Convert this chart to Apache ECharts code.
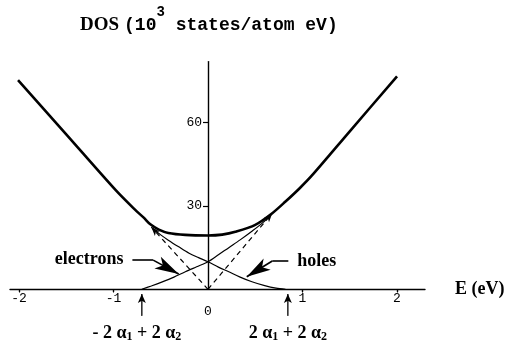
<!DOCTYPE html>
<html>
<head>
<meta charset="utf-8">
<script src="https://cdn.jsdelivr.net/npm/echarts@6/dist/echarts.min.js"></script>
<style>
  html, body { margin: 0; padding: 0; background: #fff; }
  #chart { width: 512px; height: 347px; }
</style>
</head>
<body>
<div id="chart"></div>
<script>
// Total density of states (10^3 states/atom eV) against energy (eV)
const totalE   = [-2.01, -1.5, -0.974, -0.77, -0.68, -0.61, -0.52, -0.42, -0.24, 0, 0.15, 0.29, 0.5, 0.68, 0.82, 0.97, 1.1, 1.5, 2.0];
const totalDOS = [75.3, 55.8, 35.6, 28.6, 25.8, 23.4, 21.5, 20.3, 19.6, 19.4, 19.7, 20.7, 23.2, 27.4, 31.6, 36.4, 41.0, 56.9, 76.7];

// Electron branch, rising from its band edge
const electronE   = [-0.70, -0.60, -0.49, -0.36, -0.24, -0.12, 0, 0.11, 0.22, 0.34, 0.465, 0.58, 0.68];
const electronDOS = [0, 1.2, 2.6, 4.4, 6.3, 8.1, 9.9, 12.4, 15.0, 17.8, 20.9, 24.0, 27.4];

// Hole branch, falling to its band edge
const holeE   = [-0.59, -0.50, -0.42, -0.31, -0.20, -0.10, 0, 0.11, 0.22, 0.34, 0.465, 0.60, 0.72, 0.82];
const holeDOS = [22.0, 19.6, 17.7, 15.3, 13.0, 11.4, 9.9, 8.0, 6.3, 4.4, 2.7, 1.3, 0.4, 0];

// Linear branches meeting at E = 0 (dashed)
const linearLeft  = [-0.60, 22.4];
const linearRight = [0.68, 27.4];

// Band edges marked under the energy axis
const edgeE     = [-0.70, 0.845];
const edgeNames = ['- 2 α{s|1} + 2 α{s|2}', '2 α{s|1} + 2 α{s|2}'];

// Pointer arrows for the branch names: tail start, bend, arrow tip
const electronPointer = [[-0.80, 10.6], [-0.58, 10.5], [-0.31, 5.5]];
const holePointer     = [[0.85, 10.2], [0.68, 10.2], [0.41, 4.5]];

// Axis ticks and labels
const xTickValues  = [-2, -1, 1, 2];
const xLabelValues = [-2, -1, 0, 1, 2];
const yTickValues  = [30, 60];

const ink = '#000';
const gridLeft = 10;
const pair = (xs, ys) => xs.map((x, i) => [x, ys[i]]);
const serifBold = { fontFamily: 'Liberation Serif', fontWeight: 'bold', color: ink };
const mono = { fontFamily: 'Liberation Mono', color: ink };

function edgeSeries(x, text, dx) {
  return {
    type: 'line', clip: false, silent: true, symbol: 'none',
    lineStyle: { color: ink, width: 1.3 },
    data: [
      { value: [x, -9.4], symbol: 'circle', symbolSize: 1, itemStyle: { color: ink },
        label: { show: true, position: 'bottom', distance: 7, offset: [dx, 0],
                 formatter: text,
                 ...serifBold, fontSize: 18, lineHeight: 20,
                 rich: { s: { ...serifBold, fontSize: 12, lineHeight: 12, verticalAlign: 'bottom' } } } },
      { value: [x, -1.7], symbol: 'arrow', symbolSize: [6, 9], itemStyle: { color: ink } }
    ]
  };
}

function branchMarks(linearEnd, pointer, name) {
  return {
    silent: true,
    symbol: ['none', 'none'],
    label: { show: false },
    lineStyle: { color: ink, width: 1.2, type: 'solid' },
    data: [
      [ { coord: [0, 0], lineStyle: { type: [5, 4], width: 1.2 } },
        { coord: linearEnd, symbol: 'arrow', symbolSize: [5, 9] } ],
      [ { coord: pointer[0], lineStyle: { width: 1.6 },
          label: { show: true, position: 'start', distance: 9, formatter: name, ...serifBold, fontSize: 18 } },
        { coord: pointer[1] } ],
      [ { coord: pointer[1], lineStyle: { width: 1.6 } },
        { coord: pointer[2], symbol: 'arrow', symbolSize: [10, 24] } ]
    ]
  };
}

const chart = echarts.init(document.getElementById('chart'), null, { renderer: 'canvas' });
chart.setOption({
  animation: false,
  backgroundColor: '#fff',
  title: {
    left: 80, top: 5, padding: 0,
    text: '{b|DOS} {m|(10}{s|3}{m| states/atom eV)}',
    textStyle: {
      rich: {
        b: { ...serifBold, fontSize: 19, lineHeight: 40 },
        m: { ...mono, fontSize: 18, lineHeight: 40 },
        s: { ...mono, fontSize: 14, lineHeight: 14, verticalAlign: 'top' }
      }
    }
  },
  grid: { left: gridLeft, right: 87, top: 61.6, bottom: 57.7, outerBoundsMode: 'none', containLabel: false },
  xAxis: [
    {
      type: 'value', min: -2.095, max: 2.296,
      axisLine: { onZero: true, onZeroAxisIndex: 0, lineStyle: { color: ink, width: 1.4 } },
      splitLine: { show: false },
      axisTick: { customValues: xTickValues, length: 3, lineStyle: { color: ink, width: 1.2 } },
      axisLabel: { customValues: xLabelValues, margin: 3, ...mono, fontSize: 13, lineHeight: 13,
                   formatter: v => (v === 0 ? '\n0' : String(v)) },
      name: 'E (eV)', nameLocation: 'end', nameGap: 30,
      nameTextStyle: { ...serifBold, fontSize: 18 }
    },
    {
      type: 'value', min: -2.095, max: 2.296,
      axisLine: { show: false, onZero: true, onZeroAxisIndex: 0 },
      splitLine: { show: false },
      axisLabel: { show: false },
      axisTick: { inside: true, customValues: xTickValues, length: 3, lineStyle: { color: ink, width: 1.2 } }
    }
  ],
  yAxis: {
    type: 'value', min: 0, max: 82,
    axisLine: { onZero: false, lineStyle: { color: ink, width: 1.4 } },
    splitLine: { show: false },
    axisTick: { customValues: yTickValues, length: 5, lineStyle: { color: ink, width: 1.2 } },
    axisLabel: { customValues: yTickValues, margin: 6, ...mono, fontSize: 13 }
  },
  series: [
    {
      name: 'DOS', type: 'line', data: pair(totalE, totalDOS),
      smooth: 0.3, symbol: 'none', silent: true, z: 5,
      lineStyle: { color: ink, width: 2.6 }
    },
    {
      name: 'electrons', type: 'line', data: pair(electronE, electronDOS),
      smooth: 0.3, symbol: 'none', silent: true,
      lineStyle: { color: ink, width: 1.2 },
      markLine: branchMarks(linearRight, electronPointer, 'electrons')
    },
    {
      name: 'holes', type: 'line', data: pair(holeE, holeDOS),
      smooth: 0.3, symbol: 'none', silent: true,
      lineStyle: { color: ink, width: 1.2 },
      markLine: branchMarks(linearLeft, holePointer, 'holes')
    },
    edgeSeries(edgeE[0], edgeNames[0], -5),
    edgeSeries(edgeE[1], edgeNames[1], 0)
  ]
});

// Put the DOS axis through E = 0
const zeroX = chart.convertToPixel({ xAxisIndex: 0 }, 0);
chart.setOption({ yAxis: { offset: -(zeroX - gridLeft) } });
</script>
</body>
</html>
